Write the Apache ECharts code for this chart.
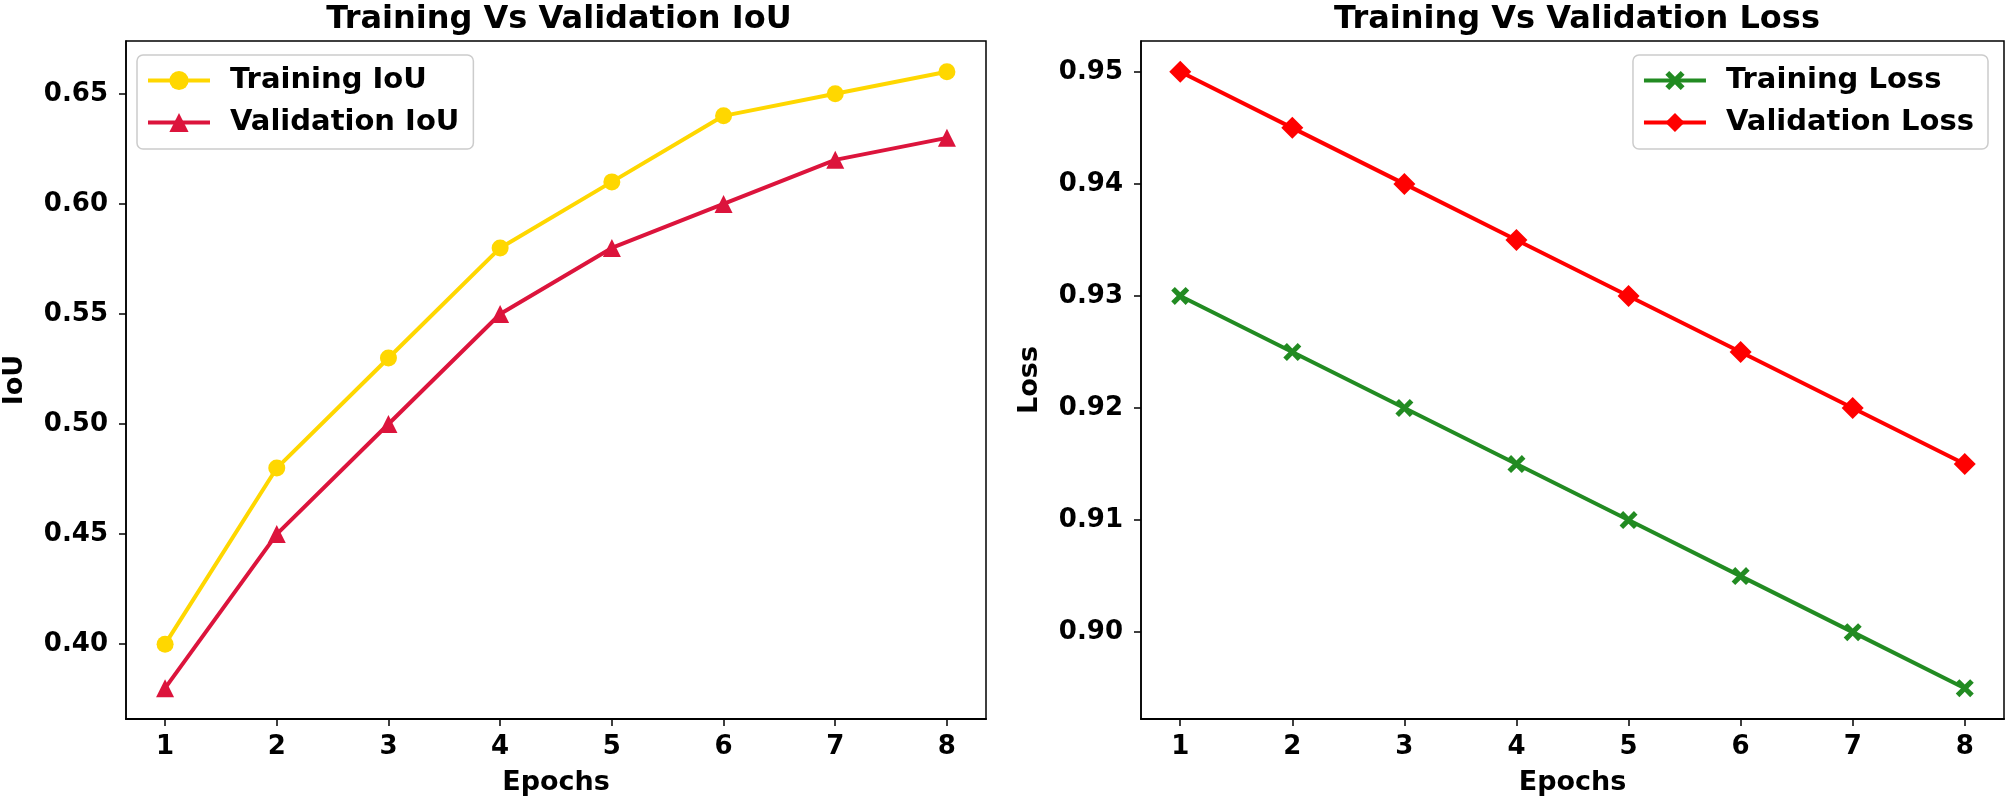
<!DOCTYPE html>
<html>
<head>
<meta charset="utf-8">
<script src="https://cdn.jsdelivr.net/npm/echarts@6/dist/echarts.min.js"></script>
<style>
html,body{margin:0;padding:0;background:#fff;}
#chart{width:2006px;height:803px;}
</style>
</head>
<body>
<div id="chart"></div>
<script>
const epochs = [1, 2, 3, 4, 5, 6, 7, 8];
const trainingIoU = [0.40, 0.48, 0.53, 0.58, 0.61, 0.64, 0.65, 0.66];
const validationIoU = [0.38, 0.45, 0.50, 0.55, 0.58, 0.60, 0.62, 0.63];
const trainingLoss = [0.930, 0.925, 0.920, 0.915, 0.910, 0.905, 0.900, 0.895];
const validationLoss = [0.950, 0.945, 0.940, 0.935, 0.930, 0.925, 0.920, 0.915];
const iouTicks = [0.40, 0.45, 0.50, 0.55, 0.60, 0.65];
const lossTicks = [0.90, 0.91, 0.92, 0.93, 0.94, 0.95];

const FONT = 'DejaVu Sans';
const pair = (xs, ys) => xs.map((x, i) => [x, ys[i]]);
const xMark = 'path://M0,2 L2,0 L5,3 L8,0 L10,2 L7,5 L10,8 L8,10 L5,7 L2,10 L0,8 L3,5 Z';

function xAxisCfg(gi) {
  return {
    type: 'value', gridIndex: gi, min: 0.65, max: 8.35,
    name: 'Epochs', nameLocation: 'middle', nameGap: 50,
    nameTextStyle: {fontFamily: FONT, fontWeight: 'bold', fontSize: 27, color: '#000'},
    axisLine: {show: true, onZero: false, lineStyle: {color: '#000', width: 2}},
    axisTick: {show: true, length: 7, lineStyle: {color: '#000', width: 1.5}, customValues: epochs},
    axisLabel: {show: true, margin: 15, fontFamily: FONT, fontWeight: 'bold', fontSize: 26, color: '#000',
      customValues: epochs, formatter: v => String(v)},
    splitLine: {show: false}
  };
}
function yAxisCfg(gi, name, min, max, ticks, dec) {
  return {
    type: 'value', gridIndex: gi, min: min, max: max,
    name: name, nameLocation: 'middle', nameGap: 98, nameRotate: 90,
    nameTextStyle: {fontFamily: FONT, fontWeight: 'bold', fontSize: 27, color: '#000'},
    axisLine: {show: true, onZero: false, lineStyle: {color: '#000', width: 1.5}},
    axisTick: {show: true, length: 7, lineStyle: {color: '#000', width: 1.5}, customValues: ticks},
    axisLabel: {show: true, margin: 18, fontFamily: FONT, fontWeight: 'bold', fontSize: 26, color: '#000',
      customValues: ticks, formatter: v => v.toFixed(dec)},
    splitLine: {show: false}
  };
}
function lineSeries(name, xi, data, color, symbol, size) {
  return {
    name: name, type: 'line', xAxisIndex: xi, yAxisIndex: xi, data: data,
    symbol: symbol, symbolSize: size, showSymbol: true,
    lineStyle: {color: color, width: 4},
    itemStyle: {color: color, borderWidth: 0},
    emphasis: {disabled: true}, animation: false
  };
}
const legendBase = {
  orient: 'vertical', itemWidth: 62, itemHeight: 24, itemGap: 13,
  padding: [11, 14, 12, 9],
  borderColor: '#cccccc', borderWidth: 1.5, borderRadius: 6,
  backgroundColor: 'rgba(255,255,255,0.8)',
  lineStyle: {width: 4},
  textStyle: {fontFamily: FONT, fontWeight: 'bold', fontSize: 29, color: '#000', padding: [0, 0, 0, 15]},
  selectedMode: false
};

const chart = echarts.init(document.getElementById('chart'), null, {renderer: 'canvas'});
chart.setOption({
  backgroundColor: '#fff',
  animation: false,
  title: [
    {text: 'Training Vs Validation IoU', left: 554, top: -1, textAlign: 'center',
      textStyle: {fontFamily: FONT, fontWeight: 'bold', fontSize: 32, color: '#000'}},
    {text: 'Training Vs Validation Loss', left: 1572, top: -1, textAlign: 'center',
      textStyle: {fontFamily: FONT, fontWeight: 'bold', fontSize: 32, color: '#000'}}
  ],
  grid: [
    {left: 123, top: 41, width: 863, height: 678, show: true, borderColor: '#000', borderWidth: 1.5, backgroundColor: 'transparent'},
    {left: 1141, top: 41, width: 863, height: 678, show: true, borderColor: '#000', borderWidth: 1.5, backgroundColor: 'transparent'}
  ],
  xAxis: [xAxisCfg(0), xAxisCfg(1)],
  yAxis: [
    yAxisCfg(0, 'IoU', 0.366, 0.674, iouTicks, 2),
    yAxisCfg(1, 'Loss', 0.89225, 0.95275, lossTicks, 2)
  ],
  legend: [
    Object.assign({}, legendBase, {left: 137, top: 55, data: ['Training IoU', 'Validation IoU']}),
    Object.assign({}, legendBase, {right: 18, top: 55, data: ['Training Loss', 'Validation Loss']})
  ],
  series: [
    lineSeries('Training IoU', 0, pair(epochs, trainingIoU), '#FFD700', 'circle', 17),
    lineSeries('Validation IoU', 0, pair(epochs, validationIoU), '#DC143C', 'triangle', 18),
    lineSeries('Training Loss', 1, pair(epochs, trainingLoss), '#228B22', xMark, 18),
    lineSeries('Validation Loss', 1, pair(epochs, validationLoss), '#FF0000', 'diamond', 22)
  ]
});
</script>
</body>
</html>
